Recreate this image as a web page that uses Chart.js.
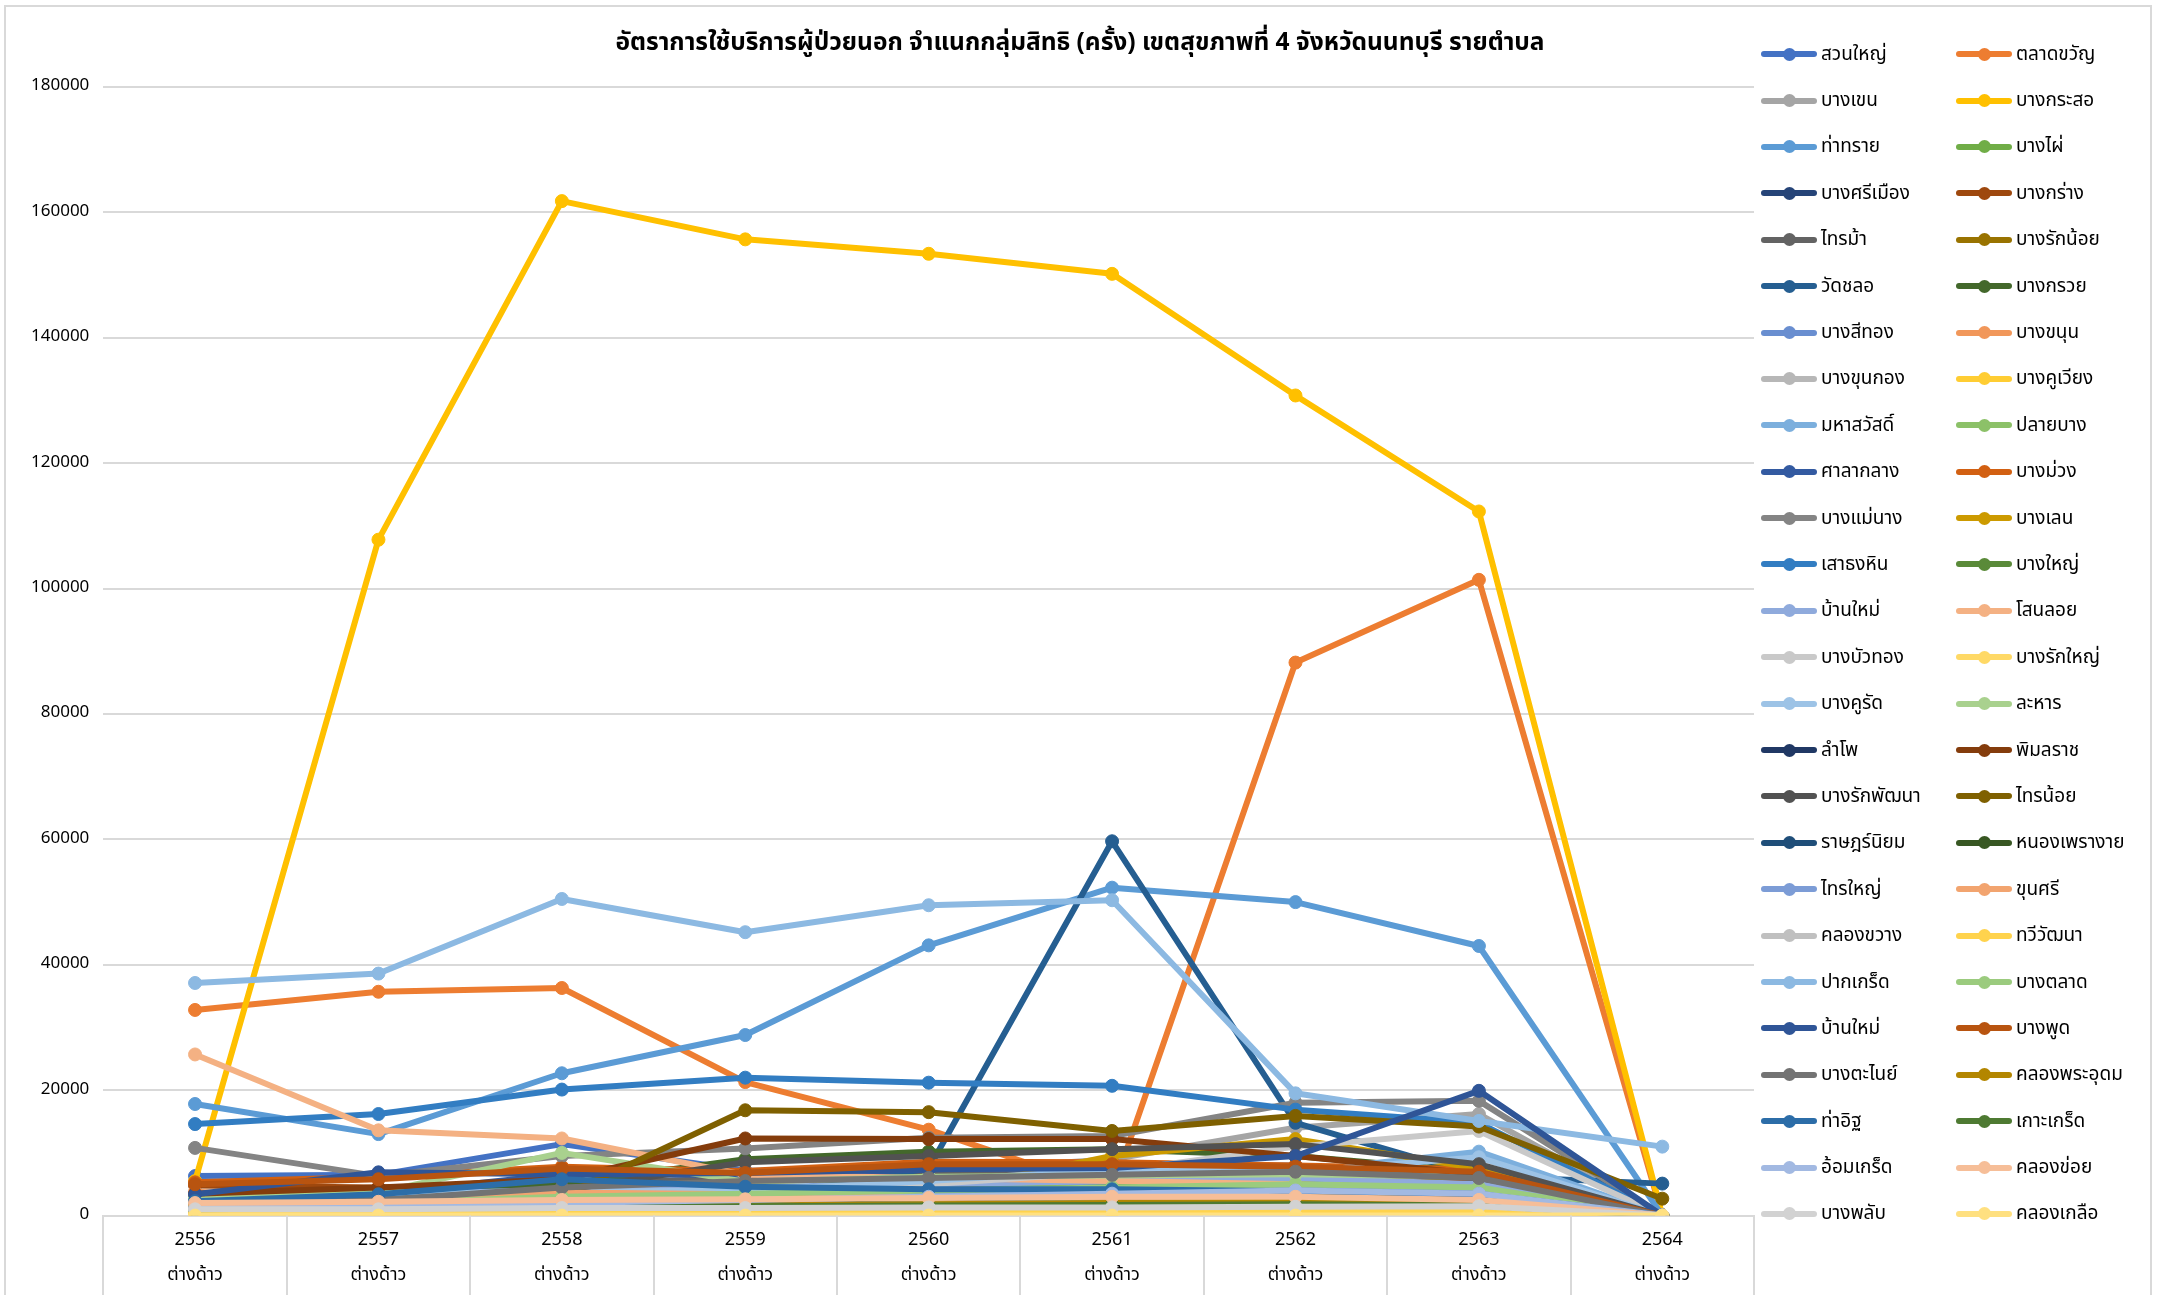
<!DOCTYPE html>
<html lang="th">
<head>
<meta charset="utf-8">
<title>อัตราการใช้บริการผู้ป่วยนอก</title>
<script src="https://cdn.jsdelivr.net/npm/chart.js@4.4.1/dist/chart.umd.min.js"></script>
<style>
  html, body { margin: 0; padding: 0; background: #fff; }
  #wrap { position: relative; width: 2163px; height: 1295px; overflow: hidden; }
  #wrap::before {
    content: ''; position: absolute; left: 4px; top: 5px; width: 2148px; height: 1300px;
    border: 2px solid #D9D9D9; box-sizing: border-box;
  }
  #chart { position: absolute; left: 0; top: 0; }
  #title {
    position: absolute; left: 580px; width: 1000px; top: 24px; text-align: center;
    font: bold 24.5px Tahoma, "Noto Sans Thai", "Noto Sans", sans-serif; color: #000; white-space: nowrap;
  }
  #legend {
    position: absolute; left: 1761px; top: 31px; width: 392px;
    display: grid; grid-template-columns: 195px 195px; grid-auto-rows: 46.4px;
  }
  .item { display: flex; align-items: center; font: 19px Tahoma, "Noto Sans Thai", "Noto Sans", sans-serif; color: #000; white-space: nowrap; }
  .swatch { position: relative; width: 56px; height: 6px; border-radius: 3px; margin-right: 4px; flex: none; }
  .swatch span { position: absolute; left: 21.5px; top: -3.5px; width: 13px; height: 13px; border-radius: 50%; }
</style>
</head>
<body>
<div id="wrap">
  <canvas id="chart" width="2163" height="1295"></canvas>
  <div id="title">อัตราการใช้บริการผู้ป่วยนอก จำแนกกลุ่มสิทธิ (ครั้ง) เขตสุขภาพที่ 4 จังหวัดนนทบุรี รายตำบล</div>
  <div id="legend"></div>
</div>
<script>
// categories (ปี) and sub label
const years = ['2556', '2557', '2558', '2559', '2560', '2561', '2562', '2563', '2564'];
const group = 'ต่างด้าว';
const yTicks = [0, 20000, 40000, 60000, 80000, 100000, 120000, 140000, 160000, 180000];

// values per ตำบล, 2556 -> 2564
const suanYai       = [6300, 6500, 11400, 7200, 6800, 6200, 5500, 4500, 0];
const taladKhwan    = [32800, 35700, 36300, 21300, 13700, 3800, 88200, 101400, 0];
const bangKhen      = [1500, 2500, 5000, 6000, 7000, 9000, 14000, 16200, 0];
const bangKraso     = [5500, 107800, 161800, 155700, 153400, 150200, 130800, 112300, 0];
const thaSai        = [17800, 13000, 22700, 28800, 43100, 52300, 50000, 43000, 0];
const bangPhai      = [1500, 2000, 3000, 3500, 4000, 4500, 5000, 4000, 0];
const bangSiMueang  = [2000, 2500, 3000, 3200, 3500, 3800, 4000, 3500, 0];
const bangKrang     = [4800, 4500, 5000, 5500, 6000, 6500, 7000, 5500, 0];
const saiMa         = [2500, 3500, 5000, 6000, 6500, 7000, 7500, 6000, 0];
const bangRakNoi    = [1500, 1200, 2500, 3000, 3500, 4000, 4700, 6500, 0];
const watChalo      = [1500, 1800, 2500, 3000, 7500, 59700, 14800, 6300, 5100];
const bangKruai     = [2000, 2500, 5000, 9000, 10200, 10600, 9500, 7000, 0];
const bangSiThong   = [1800, 2500, 3500, 4000, 4500, 5000, 5500, 4800, 0];
const bangKhanun    = [3800, 2500, 3000, 3000, 3200, 3500, 3500, 3000, 0];
const bangKhunKong  = [1200, 1500, 2000, 2500, 3000, 3500, 4000, 3800, 0];
const bangKhuWiang  = [800, 1000, 1200, 1400, 1500, 1600, 1800, 1500, 0];
const mahaSawat     = [3000, 3500, 4000, 4500, 5000, 6000, 7000, 10200, 0];
const plaiBang      = [2000, 2500, 3500, 4000, 4200, 4500, 5000, 4500, 0];
const salaKlang     = [2800, 3500, 6600, 6500, 7400, 7800, 8000, 6000, 0];
const bangMuang     = [5300, 6200, 7800, 7100, 8600, 8500, 8000, 7400, 0];
const bangMaeNang   = [10800, 6300, 9500, 10700, 12400, 12700, 18000, 18300, 0];
const bangLen       = [1500, 1800, 2500, 3000, 3500, 9500, 12200, 7500, 0];
const saoThongHin   = [14600, 16200, 20100, 22000, 21200, 20700, 16900, 14800, 0];
const bangYai       = [1500, 2000, 2800, 3500, 4000, 4500, 5000, 4200, 0];
const banMai1       = [2500, 3500, 4000, 4500, 5000, 5500, 6000, 5000, 0];
const sanoLoi       = [25700, 13600, 12300, 6500, 6000, 5500, 5000, 4000, 0];
const bangBuaThong  = [1500, 2000, 3000, 4000, 5000, 7000, 11000, 13500, 0];
const bangRakYai    = [500, 700, 800, 900, 1000, 1100, 1200, 1000, 0];
const bangKhuRat    = [3200, 3500, 3800, 4000, 5500, 7400, 7000, 9300, 0];
const lahan         = [2900, 3700, 10000, 5400, 6200, 6400, 6600, 6200, 0];
const lamPho        = [1200, 1500, 1800, 2000, 2200, 2300, 2500, 2200, 0];
const phimonRat     = [3500, 4500, 5800, 12300, 12200, 12200, 9500, 6600, 0];
const bangRakPhatthana = [2000, 2500, 4000, 8500, 9500, 10600, 11400, 8200, 0];
const saiNoi        = [1500, 2100, 3100, 16800, 16500, 13500, 15900, 14200, 2700];
const ratNiyom      = [1500, 1800, 2000, 2200, 2300, 2400, 2500, 2300, 0];
const nongPhraoNgai = [1000, 1200, 1500, 2000, 2500, 3000, 3500, 3000, 0];
const saiYai        = [2000, 2200, 2500, 3000, 3500, 4000, 4500, 4000, 0];
const khunSi        = [1500, 1800, 3700, 3400, 2900, 3000, 2900, 2500, 0];
const khlongKhwang  = [800, 1000, 1200, 1500, 1800, 2000, 2200, 1800, 0];
const thawiWatthana = [300, 400, 500, 500, 600, 600, 700, 600, 0];
const pakKret       = [37100, 38600, 50500, 45200, 49500, 50300, 19500, 15100, 11000];
const bangTalat     = [1500, 2000, 3000, 3500, 4000, 4500, 5000, 4500, 0];
const banMai2       = [3400, 6900, 6600, 6800, 7400, 7600, 9500, 19900, 0];
const bangPhut      = [5000, 5800, 7500, 6800, 8200, 8200, 7800, 7000, 0];
const bangTanai     = [1800, 2500, 4500, 5500, 6000, 6500, 7000, 6000, 0];
const khlongPhraUdom = [1500, 1200, 1500, 1600, 1800, 2000, 2200, 2000, 0];
const thaIt         = [2300, 3400, 5800, 4600, 4200, 4200, 3900, 3400, 0];
const koKret        = [1000, 1200, 1400, 1500, 1600, 1700, 1800, 1600, 0];
const omKret        = [1200, 1500, 2000, 2500, 3000, 3500, 4000, 3500, 0];
const khlongKhoi    = [2000, 2200, 2500, 2600, 2800, 3000, 3000, 2500, 0];
const bangPhlap     = [1000, 1000, 1200, 1200, 1300, 1300, 1400, 1500, 0];
const khlongKluea   = [0, 0, 0, 0, 0, 0, 0, 0, 0];

const names = ['สวนใหญ่', 'ตลาดขวัญ', 'บางเขน', 'บางกระสอ', 'ท่าทราย', 'บางไผ่',
  'บางศรีเมือง', 'บางกร่าง', 'ไทรม้า', 'บางรักน้อย', 'วัดชลอ', 'บางกรวย',
  'บางสีทอง', 'บางขนุน', 'บางขุนกอง', 'บางคูเวียง', 'มหาสวัสดิ์', 'ปลายบาง',
  'ศาลากลาง', 'บางม่วง', 'บางแม่นาง', 'บางเลน', 'เสาธงหิน', 'บางใหญ่',
  'บ้านใหม่', 'โสนลอย', 'บางบัวทอง', 'บางรักใหญ่', 'บางคูรัด', 'ละหาร',
  'ลำโพ', 'พิมลราช', 'บางรักพัฒนา', 'ไทรน้อย', 'ราษฎร์นิยม', 'หนองเพรางาย',
  'ไทรใหญ่', 'ขุนศรี', 'คลองขวาง', 'ทวีวัฒนา', 'ปากเกร็ด', 'บางตลาด',
  'บ้านใหม่', 'บางพูด', 'บางตะไนย์', 'คลองพระอุดม', 'ท่าอิฐ', 'เกาะเกร็ด',
  'อ้อมเกร็ด', 'คลองข่อย', 'บางพลับ', 'คลองเกลือ'];

const seriesValues = [suanYai, taladKhwan, bangKhen, bangKraso, thaSai, bangPhai,
  bangSiMueang, bangKrang, saiMa, bangRakNoi, watChalo, bangKruai,
  bangSiThong, bangKhanun, bangKhunKong, bangKhuWiang, mahaSawat, plaiBang,
  salaKlang, bangMuang, bangMaeNang, bangLen, saoThongHin, bangYai,
  banMai1, sanoLoi, bangBuaThong, bangRakYai, bangKhuRat, lahan,
  lamPho, phimonRat, bangRakPhatthana, saiNoi, ratNiyom, nongPhraoNgai,
  saiYai, khunSi, khlongKhwang, thawiWatthana, pakKret, bangTalat,
  banMai2, bangPhut, bangTanai, khlongPhraUdom, thaIt, koKret,
  omKret, khlongKhoi, bangPhlap, khlongKluea];

// office palette, same order as the series
const palette = ['#4472C4', '#ED7D31', '#A5A5A5', '#FFC000', '#5B9BD5', '#70AD47',
  '#264478', '#9E480E', '#636363', '#997300', '#255E91', '#43682B',
  '#698ED0', '#F1975A', '#B7B7B7', '#FFCD33', '#7CAFDD', '#8CC168',
  '#335AA1', '#D26012', '#848484', '#CC9A00', '#327DC2', '#5A8A39',
  '#8FAADC', '#F4B183', '#C9C9C9', '#FFD966', '#9DC3E6', '#A9D18E',
  '#203864', '#843C0C', '#525252', '#7F6000', '#1F4E79', '#385723',
  '#7C9CD6', '#F2A46F', '#C0C0C0', '#FFD34D', '#8CB9E2', '#9BCB7E',
  '#2F5597', '#B85410', '#737373', '#B38600', '#2C6DA8', '#4E7A32',
  '#A2B9E2', '#F6BE98', '#D2D2D2', '#FFE080'];

const thaiFont = 'Tahoma, "Noto Sans Thai", "Noto Sans", sans-serif';

// vertical separators under the category axis (Excel style)
const categoryDividers = {
  id: 'categoryDividers',
  afterDraw(chart) {
    const { ctx, chartArea } = chart;
    const x = chart.scales.x;
    const step = x.getPixelForValue(1) - x.getPixelForValue(0);
    ctx.save();
    ctx.strokeStyle = '#D9D9D9';
    ctx.lineWidth = 2;
    for (let i = 0; i <= years.length; i++) {
      const px = Math.round(x.getPixelForValue(0) - step / 2 + i * step);
      ctx.beginPath();
      ctx.moveTo(px, chartArea.bottom);
      ctx.lineTo(px, chartArea.bottom + 80);
      ctx.stroke();
    }
    ctx.restore();
  }
};

const datasets = names.map((name, i) => ({
  label: name,
  data: seriesValues[i],
  borderColor: palette[i],
  backgroundColor: palette[i],
  pointBackgroundColor: palette[i],
  pointBorderColor: palette[i],
  borderWidth: 6,
  pointRadius: 6.5,
  pointBorderWidth: 1,
  tension: 0,
  borderJoinStyle: 'round',
  borderCapStyle: 'round',
  order: -i // later series drawn on top, like Excel
}));

const chart = new Chart(document.getElementById('chart'), {
  type: 'line',
  data: {
    labels: years.map(y => [y, group]),
    datasets: datasets
  },
  options: {
    responsive: false,
    animation: false,
    layout: { padding: { left: 17, right: 409, top: 87, bottom: 1 } },
    plugins: {
      legend: { display: false },
      tooltip: { enabled: false },
      title: { display: false }
    },
    scales: {
      x: {
        offset: true,
        grid: { display: false },
        border: { color: '#D9D9D9', width: 2 },
        ticks: {
          color: '#000',
          font: { family: thaiFont, size: 18, lineHeight: 1.9 },
          padding: 1,
          maxRotation: 0
        }
      },
      y: {
        min: 0,
        max: 180000,
        afterBuildTicks: axis => { axis.ticks = yTicks.map(v => ({ value: v })); },
        grid: { color: '#D9D9D9', lineWidth: 2, drawTicks: false },
        border: { display: false },
        ticks: {
          color: '#000',
          font: { family: thaiFont, size: 17 },
          padding: 14,
          callback: v => String(v)
        }
      }
    }
  },
  plugins: [categoryDividers]
});

// legend built from the chart's datasets, row by row in two columns
const legendEl = document.getElementById('legend');
chart.data.datasets.forEach(ds => {
  const item = document.createElement('div');
  item.className = 'item';
  const sw = document.createElement('div');
  sw.className = 'swatch';
  sw.style.background = ds.borderColor;
  const dot = document.createElement('span');
  dot.style.background = ds.borderColor;
  sw.appendChild(dot);
  const txt = document.createElement('span');
  txt.textContent = ds.label;
  item.appendChild(sw);
  item.appendChild(txt);
  legendEl.appendChild(item);
});
</script>
</body>
</html>
